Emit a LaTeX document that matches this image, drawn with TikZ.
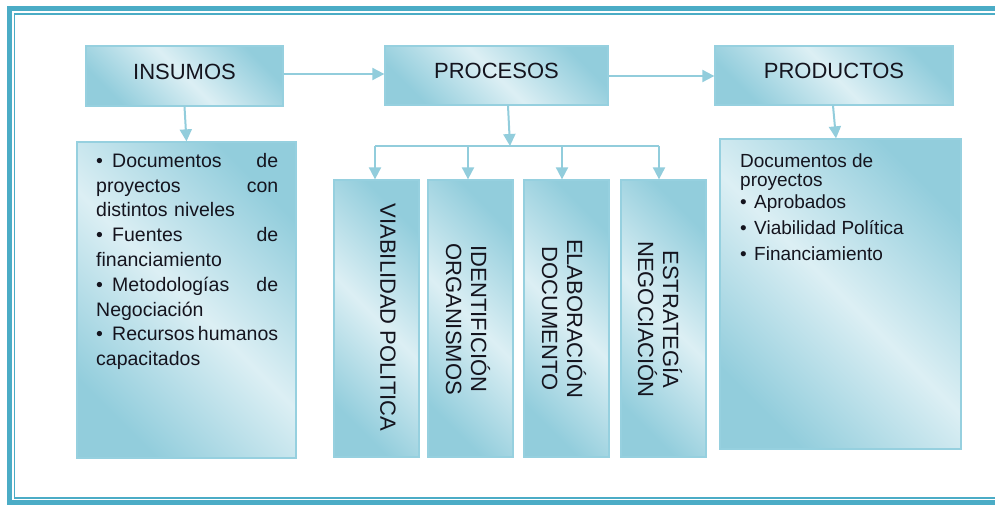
\documentclass[tikz,border=0pt]{standalone}
\usepackage{fontspec}
\setmainfont{Liberation Sans}
\usetikzlibrary{arrows.meta}
\definecolor{frame}{RGB}{75,172,198}
\definecolor{dk}{RGB}{146,205,220}
\definecolor{lt}{RGB}{220,239,244}
\definecolor{edge}{RGB}{150,208,223}
\definecolor{txt}{RGB}{20,20,30}
\begin{document}
\begin{tikzpicture}[x=1pt,y=-1pt,
  box/.style={draw=edge, line width=1.3pt, top color=dk, bottom color=dk, middle color=lt, shading angle=-45, inner sep=0pt},
  head/.style={box, text=txt, font=\fontsize{22}{26}\selectfont, text height=16pt, text depth=10pt},
  arr/.style={draw=dk, line width=2pt, -{Triangle[width=12pt,length=12pt]}},
  link/.style={draw=dk, line width=2pt},
  vtext/.style={rotate=-90, align=center, text=txt, font=\fontsize{22}{25}\selectfont, inner sep=0pt},
  bodytext/.style={inner sep=0pt, text=txt, anchor=north west, align=left}
]
\useasboundingbox (0,0) rectangle (995,504);
\clip (0,0) rectangle (995,504);
\fill[white] (0,0) rectangle (995,504);
% frame
\draw[frame, line width=5pt] (9.5,8.5) rectangle (1010,502.5);
\draw[frame, line width=1.5pt] (14.5,13.8) rectangle (1005,498.2);

% header boxes
\node[head, minimum width=197pt, minimum height=60pt] (ins) at (184.5,76) {INSUMOS};
\node[head, minimum width=223pt, minimum height=59pt] (pro) at (496.5,75.5) {PROCESOS};
\node[head, minimum width=238pt, minimum height=59pt] (prd) at (834,75.5) {PRODUCTOS};

% lower boxes
\node[box, minimum width=219pt, minimum height=316pt] (inl) at (186.5,300) {};
\node[box, minimum width=85pt, minimum height=277pt] (v1) at (376.5,318.5) {};
\node[box, minimum width=85pt, minimum height=277pt] (v2) at (470.5,318.5) {};
\node[box, minimum width=85pt, minimum height=277pt] (v3) at (566.5,318.5) {};
\node[box, minimum width=85pt, minimum height=277pt] (v4) at (663.5,318.5) {};
\node[box, minimum width=241pt, minimum height=310pt] (prl) at (840.5,294) {};

% texts
\node[bodytext, text width=182pt, font=\fontsize{19.5}{24.8}\selectfont] (inlt) at (96,153)
 {\makebox[16pt][l]{•}Documentos\hfill de\\
  proyectos\hfill con\\
  distintos niveles\\
  \makebox[16pt][l]{•}Fuentes\hfill de\\
  financiamiento\\
  \makebox[16pt][l]{•}Metodologías\hfill de\\
  Negociación\\
  \makebox[16pt][l]{•}Recursos\hfill humanos\\
  capacitados};
\node[bodytext, font=\fontsize{19}{19}\selectfont] (prlt) at (740,154)
 {Documentos de\\
  proyectos\\[2.6pt]
  \makebox[14pt][l]{•}Aprobados\\[7pt]
  \makebox[14pt][l]{•}Viabilidad Política\\[6.7pt]
  \makebox[14pt][l]{•}Financiamiento};

\node[vtext] (v1t) at (388,317.5) {VIABILIDAD POLITICA};
\node[vtext] (v2t) at (468,319) {IDENTIFICIÓN\\ORGANISMOS};
\node[vtext] (v3t) at (564,318.5) {ELABORACIÓN\\DOCUMENTO};
\node[vtext] (v4t) at (660,319.5) {ESTRATEGÍA\\NEGOCIACIÓN};

% connectors
\draw[arr] ([yshift=2pt]ins.east) -- ([yshift=2pt]ins.east -| pro.west);
\draw[arr] ([yshift=-0.5pt]pro.east) -- ([yshift=-0.5pt]pro.east -| prd.west);
\draw[arr] (ins.south) -- (inl.north);
\draw[arr] ([xshift=-1pt]prd.south) -- ([xshift=-4.5pt]prl.north);

\coordinate (bar) at (510,146);
\coordinate (b1) at (375,146);
\coordinate (b2) at (468,146);
\coordinate (b3) at (562,146);
\coordinate (b4) at (659,146);
\draw[arr] ([xshift=11.5pt]pro.south) -- (bar);
\draw[link] (b1) -- (b4);
\draw[arr] (b1) -- (b1 |- v1.north);
\draw[arr] (b2) -- (b2 |- v2.north);
\draw[arr] (b3) -- (b3 |- v3.north);
\draw[arr] (b4) -- (b4 |- v4.north);
\end{tikzpicture}
\end{document}
